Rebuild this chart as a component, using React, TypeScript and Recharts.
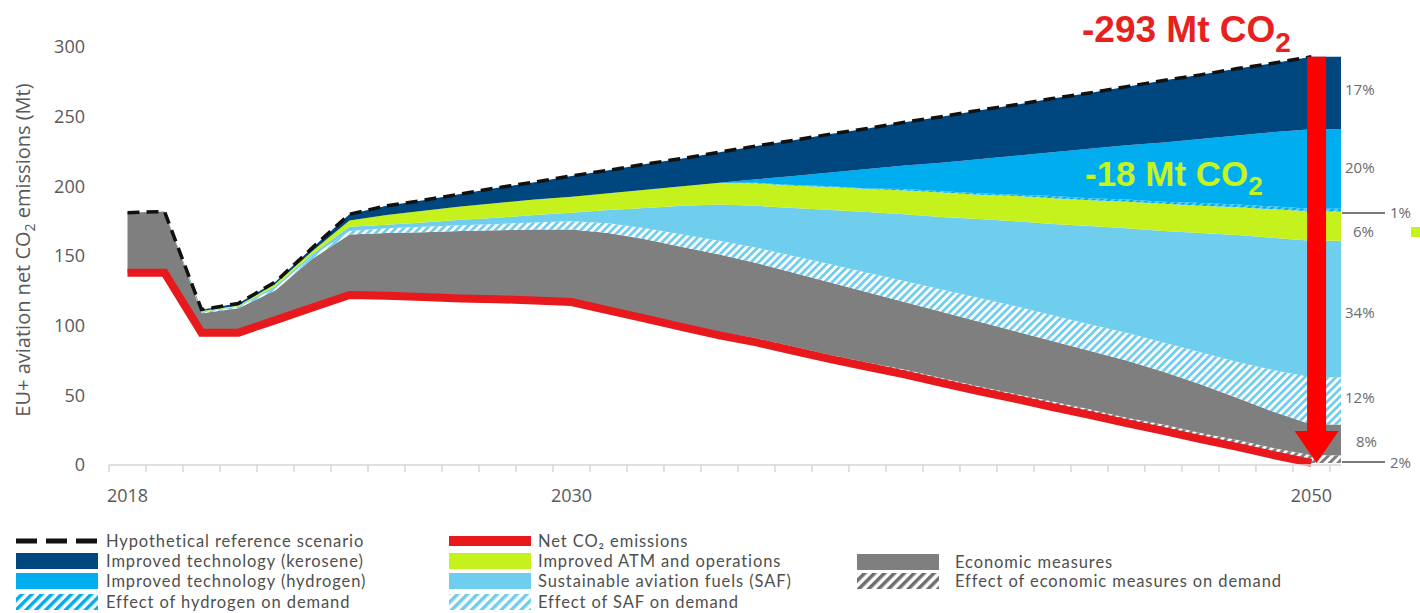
import { ComposedChart, Area, Line, XAxis, YAxis, ReferenceLine } from 'recharts';

// EU+ aviation net CO2 emissions (Mt), layer thickness per year, bottom to top
const years = [
  2018, 2019, 2020, 2021, 2022, 2023, 2024, 2025, 2026, 2027, 2028, 2029, 2030,
  2031, 2032, 2033, 2034, 2035, 2036, 2037, 2038, 2039, 2040, 2041, 2042, 2043,
  2044, 2045, 2046, 2047, 2048, 2049, 2050,
];
const netEmissions = [
  138, 138, 95, 95, 104, 113, 122, 121.5, 120.5, 119.5, 119, 118, 117,
  111, 105, 99, 93, 88, 82, 76, 70.5, 65, 59, 53, 47.5, 41.5, 36, 30, 24.5, 18.5, 13, 7, 1.5,
];
const econDemandEffect = [
  0, 0, 0, 0, 0, 0, 0, 0.5, 1, 1, 1.5, 1.5, 2,
  2, 2.5, 2.5, 2.5, 3, 3, 3, 3, 3.5, 3.5, 3.5, 3.5, 4, 4, 4, 4.5, 4.5, 5, 5, 5.5,
];
const economicMeasures = [
  43, 44, 14, 17.5, 21.5, 35, 43.5, 44.5, 45.5, 47.5, 48, 49.5, 50,
  53.5, 54.5, 55, 55.5, 54, 53, 52, 50.5, 48.5, 47.5, 46.5, 45, 43.5, 42, 41, 38, 35, 30, 26, 22,
];
const safDemandEffect = [
  0, 0, 0.5, 1, 1.5, 2, 2.5, 3.5, 4, 4, 4.5, 5, 6,
  7, 8, 9, 10, 11, 12, 13, 14, 15, 16, 17, 18, 18.5, 19, 20, 21, 23, 26, 30, 34,
];
const safFuels = [
  0, 0, 0.5, 0.5, 1.5, 1.5, 3, 2.5, 3, 4, 4.5, 5.5, 6,
  9.5, 14.5, 20.5, 26, 30, 34.5, 39, 43.5, 48, 52, 56.5, 61, 65.5, 70.5, 75, 80, 85.5, 91, 95, 98,
];
const atmOperations = [
  0, 0, 0.5, 0.5, 1.5, 2, 4.5, 7, 8.5, 9.5, 10.5, 11, 11.5,
  12, 13, 14, 15.5, 16, 16, 16.5, 16.5, 17, 17.5, 17.5, 18, 18.5, 18.5, 19, 19.5, 19.5, 20, 20.5, 21,
];
const h2DemandEffect = [
  0, 0, 0, 0, 0, 0, 0, 0, 0, 0, 0, 0, 0,
  0, 0, 0, 0, 0.5, 0.5, 0.5, 0.5, 1, 1, 1, 1, 1.5, 1.5, 1.5, 1.5, 2, 2, 2, 2,
];
const hydrogenTech = [
  0, 0, 0, 0, 0, 0, 0, 0, 0, 0, 0, 0, 0,
  0, 0, 0, 0, 2.5, 6.5, 10, 14, 17, 20.5, 24.5, 28, 31.5, 35.5, 39, 42.5, 46, 49.5, 53.5, 57,
];
const keroseneTech = [
  0, 0, 1, 1.5, 1.5, 2.5, 4.5, 6.5, 7.5, 9, 11, 12.5, 15,
  16.5, 18.5, 20, 22, 24, 25.5, 27.5, 29, 31, 33, 35, 36.5, 38.5, 40, 42, 44.5, 46, 48, 49.5, 52,
];
const referenceScenario = [
  181, 182, 111.5, 116, 131.5, 156, 180, 186, 190, 194.5, 199, 203, 207.5,
  211.5, 216, 220, 224.5, 229, 233, 237.5, 241.5, 246, 250, 254.5, 258.5, 263, 267, 271.5, 276, 280, 284.5, 288.5, 293,
];

const yTicks = [0, 50, 100, 150, 200, 250, 300];
const yearLabels = [2018, 2030, 2050];
const yearBoundaries = Array.from({ length: years.length + 1 }, (_, i) => years[0] - 0.5 + i);
const shareLabels = [
  { text: '17%', x: 1345, y: 95 },
  { text: '20%', x: 1345, y: 173 },
  { text: '1%', x: 1390, y: 218 },
  { text: '6%', x: 1353, y: 237 },
  { text: '34%', x: 1345, y: 318 },
  { text: '12%', x: 1345, y: 403 },
  { text: '8%', x: 1356, y: 447 },
  { text: '2%', x: 1390, y: 468 },
];

const STUB_END = 2050.8;
const ARROW_X = 2050.14;

const C = {
  navy: '#00467f',
  h2: '#00aeef',
  green: '#c5f21c',
  saf: '#6fcdee',
  gray: '#7f7f7f',
  red: '#e8191c',
  arrow: '#ff0000',
  text: '#595959',
  axis: '#d6d6d6',
};

const rows: any[] = years.map((year, i) => ({
  year,
  base: netEmissions[i],
  econDemand: econDemandEffect[i],
  economic: economicMeasures[i],
  safDemand: safDemandEffect[i],
  saf: safFuels[i],
  atm: atmOperations[i],
  h2Demand: h2DemandEffect[i],
  hydrogen: hydrogenTech[i],
  kerosene: keroseneTech[i],
  net: netEmissions[i],
  reference: referenceScenario[i],
}));
rows.push({ ...rows[rows.length - 1], year: STUB_END, net: null, reference: null });

const layers = [
  { key: 'econDemand', fill: 'url(#hatchEcon)' },
  { key: 'economic', fill: C.gray },
  { key: 'safDemand', fill: 'url(#hatchSaf)' },
  { key: 'saf', fill: C.saf },
  { key: 'atm', fill: C.green },
  { key: 'h2Demand', fill: 'url(#hatchH2)' },
  { key: 'hydrogen', fill: C.h2 },
  { key: 'kerosene', fill: C.navy },
];

const Arrow = (p: any) => {
  const { x1, y1, y2 } = p;
  const head = 32;
  return (
    <g>
      <line x1={x1} x2={x1} y1={y1} y2={y2 - head + 2} stroke={C.arrow} strokeWidth={19} />
      <polygon points={`${x1 - 22},${y2 - head} ${x1 + 22},${y2 - head} ${x1},${y2}`} fill={C.arrow} />
    </g>
  );
};

const hatch = (id: string, color: string, size = 7, bg = '#fff') => (
  <pattern id={id} width={size} height={size} patternUnits="userSpaceOnUse" patternTransform="rotate(45)">
    <rect width={size} height={size} fill={bg} />
    <rect width={size / 2} height={size} fill={color} />
  </pattern>
);

const legendCols = [
  {
    sx: 16, tx: 106, items: [
      { y: 541, kind: 'dash', label: 'Hypothetical reference scenario' },
      { y: 561, kind: C.navy, label: 'Improved technology (kerosene)' },
      { y: 581, kind: C.h2, label: 'Improved technology (hydrogen)' },
      { y: 602, kind: 'url(#legH2)', label: 'Effect of hydrogen on demand' },
    ],
  },
  {
    sx: 449, tx: 538, items: [
      { y: 541, kind: 'net', label: 'Net CO\u2082 emissions' },
      { y: 561, kind: C.green, label: 'Improved ATM and operations' },
      { y: 581, kind: C.saf, label: 'Sustainable aviation fuels (SAF)' },
      { y: 602, kind: 'url(#legSaf)', label: 'Effect of SAF on demand' },
    ],
  },
  {
    sx: 857, tx: 955, items: [
      { y: 562, kind: C.gray, label: 'Economic measures' },
      { y: 581, kind: 'url(#legEcon)', label: 'Effect of economic measures on demand' },
    ],
  },
];

function Swatch({ x, y, kind }: { x: number; y: number; kind: string }) {
  const w = 82;
  if (kind === 'dash')
    return <line x1={x} x2={x + w} y1={y} y2={y} stroke="#111" strokeWidth={5} strokeDasharray="21 9" />;
  if (kind === 'net') return <rect x={x} y={y - 5} width={w} height={10} fill={C.red} />;
  return <rect x={x} y={y - 8} width={w} height={16} fill={kind} />;
}

export default function App() {
  const font = '"Open Sans", "Noto Sans", sans-serif';
  return (
    <div style={{ position: 'relative', width: 1420, height: 613, fontFamily: font, background: '#fff' }}>
      <style>{'body{margin:0}'}</style>
      <ComposedChart
        width={1420}
        height={520}
        data={rows}
        margin={{ top: 47, right: 79, bottom: 5, left: 39 }}
      >
        <XAxis
          type="number"
          dataKey="year"
          domain={[yearBoundaries[0], STUB_END]}
          ticks={yearBoundaries}
          tick={() => <g />}
          tickLine={{ stroke: C.axis, strokeWidth: 1.5 }}
          axisLine={{ stroke: C.axis, strokeWidth: 1.5 }}
          tickSize={7}
          height={10}
          interval={0}
        />
        <XAxis
          xAxisId="labels"
          type="number"
          dataKey="year"
          domain={[yearBoundaries[0], STUB_END]}
          ticks={yearLabels}
          axisLine={false}
          tickLine={false}
          tickMargin={8}
          height={40}
          interval={0}
          tick={{ fontSize: 18, fill: C.text }}
        />
        <YAxis
          domain={[0, 300]}
          ticks={yTicks}
          axisLine={false}
          tickLine={false}
          tickMargin={18}
          width={70}
          tick={{ fontSize: 18, fill: C.text }}
        />
        <Area
          dataKey="base"
          stackId="s"
          type="linear"
          fill="none"
          stroke="none"
          isAnimationActive={false}
          activeDot={false}
        />
        {layers.map((l) => (
          <Area
            key={l.key}
            dataKey={l.key}
            stackId="s"
            type="linear"
            fill={l.fill}
            fillOpacity={1}
            stroke="none"
            isAnimationActive={false}
            activeDot={false}
          />
        ))}
        <Line
          dataKey="reference"
          type="linear"
          stroke="#111"
          strokeWidth={3.5}
          strokeDasharray="12 7"
          dot={false}
          activeDot={false}
          isAnimationActive={false}
        />
        <Line
          dataKey="net"
          type="linear"
          stroke={C.red}
          strokeWidth={8}
          dot={false}
          activeDot={false}
          isAnimationActive={false}
        />
        <ReferenceLine
          segment={[
            { x: ARROW_X, y: referenceScenario[referenceScenario.length - 1] },
            { x: ARROW_X, y: netEmissions[netEmissions.length - 1] },
          ]}
          ifOverflow="visible"
          shape={Arrow}
        />
      </ComposedChart>

      <svg
        width={1420}
        height={613}
        style={{ position: 'absolute', left: 0, top: 0, pointerEvents: 'none' }}
        fontFamily={font}
      >
        <defs>
          {hatch('hatchEcon', C.gray, 6)}
          {hatch('hatchSaf', C.saf, 5.5)}
          {hatch('hatchH2', C.h2, 5.5, '#5fcaf3')}
          {hatch('legEcon', '#6e6e6e', 7)}
          {hatch('legSaf', C.saf, 7)}
          {hatch('legH2', C.h2, 7)}
        </defs>

        <text transform="translate(30,250) rotate(-90)" textAnchor="middle" fontSize={20} fill={C.text}>
          EU+ aviation net CO<tspan dy={5} fontSize={14}>2</tspan>
          <tspan dy={-5}> emissions (Mt)</tspan>
        </text>

        <text x={1082} y={42} fontSize={37} fontWeight="bold" fill="#e8201e" fontFamily='"Liberation Sans", Arial, sans-serif'>
          -293 Mt CO<tspan dy={10} fontSize={28}>2</tspan>
        </text>
        <text x={1085} y={186} fontSize={35} fontWeight="bold" fill="#c6f41f" fontFamily='"Liberation Sans", Arial, sans-serif'>
          -18 Mt CO<tspan dy={9} fontSize={26}>2</tspan>
        </text>

        {shareLabels.map((s) => (
          <text key={s.text} x={s.x} y={s.y} fontSize={15} fill="#6b6b6b">
            {s.text}
          </text>
        ))}
        <line x1={1342} x2={1385} y1={213} y2={213} stroke="#7a7a7a" strokeWidth={2} />
        <line x1={1342} x2={1385} y1={462} y2={462} stroke="#7a7a7a" strokeWidth={2} />
        <rect x={1411} y={227} width={9} height={10} fill={C.green} />

        {legendCols.map((col) =>
          col.items.map((it) => (
            <g key={it.label}>
              <Swatch x={col.sx} y={it.y} kind={it.kind} />
              <text
                x={col.tx}
                y={it.y + 6}
                fontSize={16.5}
                letterSpacing={0.9}
                fill="#4f4f4f"
                fontFamily="Lato, sans-serif"
              >
                {it.label}
              </text>
            </g>
          )),
        )}
      </svg>
    </div>
  );
}
